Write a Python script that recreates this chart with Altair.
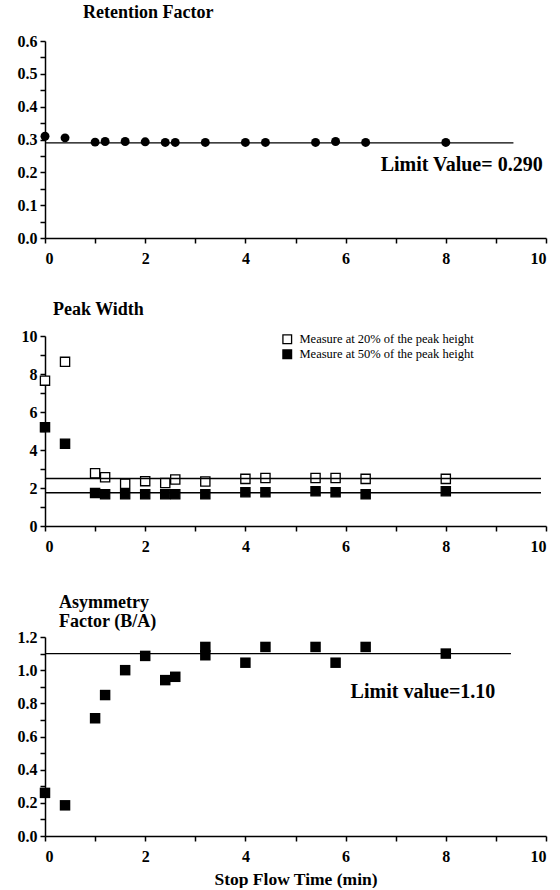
import altair as alt
import pandas as pd

# ---- data ----
time = [0, 0.4, 1.0, 1.2, 1.6, 2.0, 2.4, 2.6, 3.2, 4.0, 4.4, 5.4, 5.8, 6.4, 8.0]
retention = [0.31, 0.305, 0.292, 0.294, 0.294, 0.293, 0.291, 0.291, 0.291, 0.291,
             0.291, 0.291, 0.294, 0.291, 0.291]
width20 = [7.65, 8.64, 2.78, 2.57, 2.22, 2.36, 2.26, 2.45, 2.34, 2.48, 2.53, 2.53, 2.53, 2.48, 2.48]
width50 = [5.2, 4.33, 1.74, 1.67, 1.67, 1.67, 1.67, 1.67, 1.67, 1.78, 1.78, 1.83, 1.78, 1.67, 1.83]
asym_time = [0, 0.4, 1.0, 1.2, 1.6, 2.0, 2.4, 2.6, 3.2, 3.2, 4.0, 4.4, 5.4, 5.8, 6.4, 8.0]
asymmetry = [0.26, 0.185, 0.71, 0.85, 1.0, 1.086, 0.94, 0.96, 1.14, 1.09, 1.045, 1.14, 1.14,
             1.045, 1.14, 1.10]

ret_limit = 0.29
ret_limit_end = 9.35
pw_limits = [2.5, 1.75]
pw_limit_end = 9.9
asym_limit = 1.10
asym_limit_end = 9.3

series_names = ["Measure at 20% of the peak height", "Measure at 50% of the peak height"]

x_ticks = [0, 1, 2, 3, 4, 5, 6, 7, 8, 9, 10]
ret_ticks = [0, 0.05, 0.1, 0.15, 0.2, 0.25, 0.3, 0.35, 0.4, 0.45, 0.5, 0.55, 0.6]
pw_ticks = [0, 1, 2, 3, 4, 5, 6, 7, 8, 9, 10]
asym_ticks = [0, 0.1, 0.2, 0.3, 0.4, 0.5, 0.6, 0.7, 0.8, 0.9, 1.0, 1.1, 1.2]

FONT = "Liberation Serif"
W = 501

df_ret = pd.DataFrame({"t": time, "v": retention})
df_pw = pd.DataFrame({
    "t": time + time,
    "v": width20 + width50,
    "s": [series_names[0]] * len(time) + [series_names[1]] * len(time),
})
df_asym = pd.DataFrame({"t": asym_time, "v": asymmetry})


def xax(title=None):
    return alt.X("t:Q", scale=alt.Scale(domain=[0, 10], nice=False),
                 axis=alt.Axis(values=x_ticks, format="d", title=title,
                               labelExpr="datum.value % 2 == 0 ? datum.label : ''",
                               labelOverlap=False,
                               labelFont=FONT, labelFontWeight="bold", labelFontSize=16,
                               titleFont=FONT, titleFontWeight="bold", titleFontSize=17.5,
                               titlePadding=6, labelPadding=7,
                               domainColor="black", tickColor="black", domainWidth=1.5,
                               tickWidth=1.5, labelColor="black", titleColor="black",
                               tickSize=5, grid=False))


def yax(domain, values, fmt, major):
    return alt.Y("v:Q", scale=alt.Scale(domain=domain, nice=False),
                 axis=alt.Axis(values=values, format=fmt, title=None,
                               labelExpr=f"abs(datum.value / {major} - round(datum.value / {major})) < 0.01 ? datum.label : ''",
                               labelOverlap=False,
                               labelFont=FONT, labelFontWeight="bold", labelFontSize=16,
                               domainColor="black", tickColor="black", domainWidth=1.5,
                               tickWidth=1.5, labelColor="black", tickSize=5, labelPadding=3,
                               grid=False))


def ptitle(text, dx, offset):
    return alt.TitleParams(text=text, anchor="start", frame="group", dx=dx, offset=offset,
                           font=FONT, fontWeight="bold", fontSize=18, color="black",
                           lineHeight=19)


# ---- panel 1 ----
y1 = yax([0, 0.6], ret_ticks, ".1f", 0.1)
p1_pts = alt.Chart(df_ret).mark_circle(size=80, color="black", opacity=1).encode(x=xax(), y=y1)
p1_line = alt.Chart(pd.DataFrame({"t": [0], "t2": [ret_limit_end], "v": [ret_limit]})).mark_rule(
    color="black", strokeWidth=1.3).encode(x=xax(), x2="t2:Q", y=y1)
p1_txt = alt.Chart(pd.DataFrame({"t": [6.7], "v": [0.222],
                                 "label": ["Limit Value= 0.290"]})).mark_text(
    align="left", baseline="middle", font=FONT, fontWeight="bold", fontSize=20,
    color="black").encode(x=xax(), y=y1, text="label:N")
p1 = alt.layer(p1_pts, p1_line, p1_txt).properties(
    width=W, height=197, title=ptitle("Retention Factor", 38, 11))

# ---- panel 2 ----
y2 = yax([0, 10], pw_ticks, "d", 2)
p2_pts = alt.Chart(df_pw).mark_point(shape="square", size=85, filled=True, stroke="black",
                                      strokeWidth=1.3, opacity=1).encode(
    x=xax(), y=y2,
    fill=alt.Fill("s:N", scale=alt.Scale(domain=series_names, range=["white", "black"]),
                  legend=alt.Legend(title=None, orient="none", legendX=236, legendY=292,
                                    labelFont=FONT, labelFontSize=12.5, labelColor="black",
                                    labelLimit=400,
                                    symbolType="square", symbolSize=75,
                                    symbolStrokeColor="black", symbolStrokeWidth=1.3,
                                    rowPadding=0, labelOffset=6)))
p2_line = alt.Chart(pd.DataFrame({"t": [0, 0], "t2": [pw_limit_end] * 2, "v": pw_limits})).mark_rule(
    color="black", strokeWidth=1.3).encode(x=xax(), x2="t2:Q", y=y2)
p2 = alt.layer(p2_pts, p2_line).properties(
    width=W, height=190, title=ptitle("Peak Width", 8, 9))

# ---- panel 3 ----
y3 = yax([0, 1.2], asym_ticks, ".1f", 0.2)
x3 = xax(title="Stop Flow Time (min)")
p3_pts = alt.Chart(df_asym).mark_square(size=110, color="black", opacity=1).encode(x=x3, y=y3)
p3_line = alt.Chart(pd.DataFrame({"t": [0], "t2": [asym_limit_end], "v": [asym_limit]})).mark_rule(
    color="black", strokeWidth=1.3).encode(x=x3, x2="t2:Q", y=y3)
p3_txt = alt.Chart(pd.DataFrame({"t": [6.1], "v": [0.87],
                                 "label": ["Limit value=1.10"]})).mark_text(
    align="left", baseline="middle", font=FONT, fontWeight="bold", fontSize=20,
    color="black").encode(x=x3, y=y3, text="label:N")
p3 = alt.layer(p3_pts, p3_line, p3_txt).properties(
    width=W, height=199, title=ptitle(["Asymmetry", "Factor (B/A)"], 14, -2))

chart = alt.vconcat(alt.vconcat(p1, p2, spacing=35), p3, spacing=40).properties(
    padding={"left": 17, "top": 4, "right": 2, "bottom": 0}, background="white"
).configure_view(stroke=None)

chart.save("out.html", embed_options={"renderer": "svg", "actions": False})
